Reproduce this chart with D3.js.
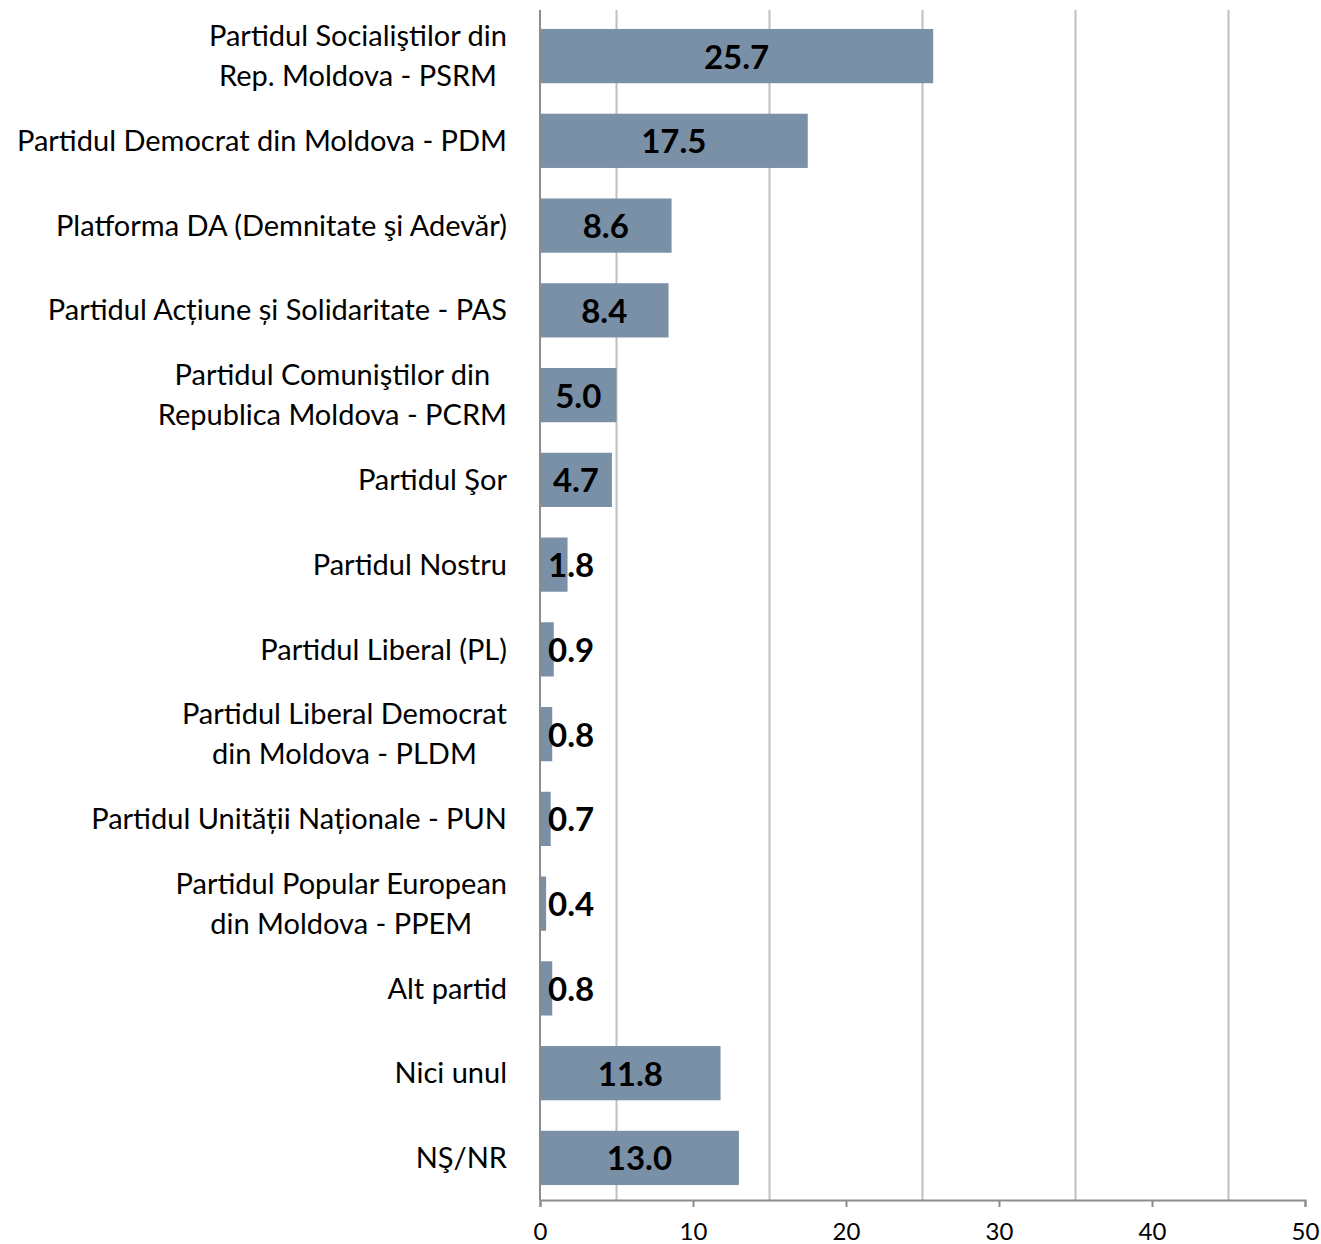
<!DOCTYPE html>
<html>
<head>
<meta charset="utf-8">
<script src="https://cdn.jsdelivr.net/npm/d3@7"></script>
<style>
  body { margin: 0; background: #fff; }
  svg { display: block; }
</style>
</head>
<body>
<div id="chart"></div>
<script>
// Party names, one entry per line of the label.
const categories = [
  ["Partidul Socialiştilor din ", "Rep. Moldova - PSRM "],
  ["Partidul Democrat din Moldova - PDM"],
  ["Platforma DA (Demnitate şi Adevăr)"],
  ["Partidul Acțiune și Solidaritate - PAS "],
  ["Partidul Comuniştilor din ", "Republica Moldova - PCRM"],
  ["Partidul Şor"],
  ["Partidul Nostru "],
  ["Partidul Liberal (PL)"],
  ["Partidul Liberal Democrat", "din Moldova - PLDM "],
  ["Partidul Unității Naționale - PUN"],
  ["Partidul Popular European ", "din Moldova - PPEM "],
  ["Alt partid"],
  ["Nici unul"],
  ["NŞ/NR"]
];
const values = [25.7, 17.5, 8.6, 8.4, 5.0, 4.7, 1.8, 0.9, 0.8, 0.7, 0.4, 0.8, 11.8, 13.0];
const xTicks = [0, 10, 20, 30, 40, 50];
const gridValues = [5, 15, 25, 35, 45];

const width = 1321, height = 1244;
const margin = {top: 10, right: 16, bottom: 44, left: 540};
const fontFamily = "Lato, 'Open Sans', sans-serif";

const svg = d3.select('#chart').append('svg')
  .attr('width', width)
  .attr('height', height);

const x = d3.scaleLinear()
  .domain([0, 50])
  .range([margin.left, width - margin.right]);

// bands sit slightly lower than the plot area, as in the original
const y = d3.scaleBand()
  .domain(d3.range(categories.length))
  .range([margin.top + 2, height - margin.bottom + 2])
  .paddingInner(0.36)
  .paddingOuter(0.2);

// Vertical gridlines (at the half steps, as in the original)
svg.append('g')
  .selectAll('line')
  .data(gridValues)
  .enter()
  .append('line')
  .attr('x1', d => x(d))
  .attr('x2', d => x(d))
  .attr('y1', margin.top)
  .attr('y2', height - margin.bottom)
  .attr('stroke', '#c0c0c0')
  .attr('stroke-width', 2);

// Bars
svg.append('g')
  .selectAll('rect')
  .data(values)
  .enter()
  .append('rect')
  .attr('x', x(0))
  .attr('y', (d, i) => y(i))
  .attr('width', d => x(d) - x(0))
  .attr('height', y.bandwidth())
  .attr('fill', '#7a90a7');

// X axis
const xAxis = d3.axisBottom(x)
  .tickValues(xTicks)
  .tickSize(7)
  .tickFormat(d3.format('d'));

const axisG = svg.append('g')
  .attr('transform', `translate(0, ${height - margin.bottom})`)
  .call(xAxis);

axisG.select('.domain').attr('stroke', '#8c8c8c').attr('stroke-width', 2);
axisG.selectAll('.tick line').attr('stroke', '#8c8c8c').attr('stroke-width', 2);
axisG.selectAll('.tick text')
  .attr('font-family', fontFamily)
  .attr('font-size', '24px')
  .attr('fill', '#000')
  .attr('dy', '1.25em');

// Y axis line
svg.append('line')
  .attr('x1', x(0))
  .attr('x2', x(0))
  .attr('y1', margin.top)
  .attr('y2', height - margin.bottom)
  .attr('stroke', '#8c8c8c')
  .attr('stroke-width', 2);

// Value labels: centred in the bar, but never starting before the bar base
const valueG = svg.append('g');
values.forEach((v, i) => {
  const t = valueG.append('text')
    .attr('font-family', fontFamily)
    .attr('font-weight', 'bold')
    .attr('font-size', '33px')
    .attr('fill', '#000')
    .attr('text-anchor', 'middle')
    .attr('y', y(i) + y.bandwidth() / 2)
    .attr('dy', '0.38em')
    .text(d3.format('.1f')(v));
  const w = t.node().getComputedTextLength();
  const cx = Math.max((x(0) + x(v)) / 2, x(0) + 8 + w / 2);
  t.attr('x', cx);
});

// Category labels: lines centred on each other, block right aligned
const labelRight = 507;
const lineHeight = 40;
const labelG = svg.append('g');
categories.forEach((lines, i) => {
  const g = labelG.append('g');
  const cy = y(i) + y.bandwidth() / 2;
  const texts = lines.map((line, k) => g.append('text')
    .attr('font-family', fontFamily)
    .attr('font-size', '29px')
    .attr('fill', '#000')
    .attr('text-anchor', 'middle')
    .attr('y', cy + (k - (lines.length - 1) / 2) * lineHeight)
    .attr('dy', '0.35em')
    .text(line));
  const maxW = d3.max(texts, t => t.node().getComputedTextLength());
  texts.forEach(t => t.attr('x', labelRight - maxW / 2));
});
</script>
</body>
</html>
